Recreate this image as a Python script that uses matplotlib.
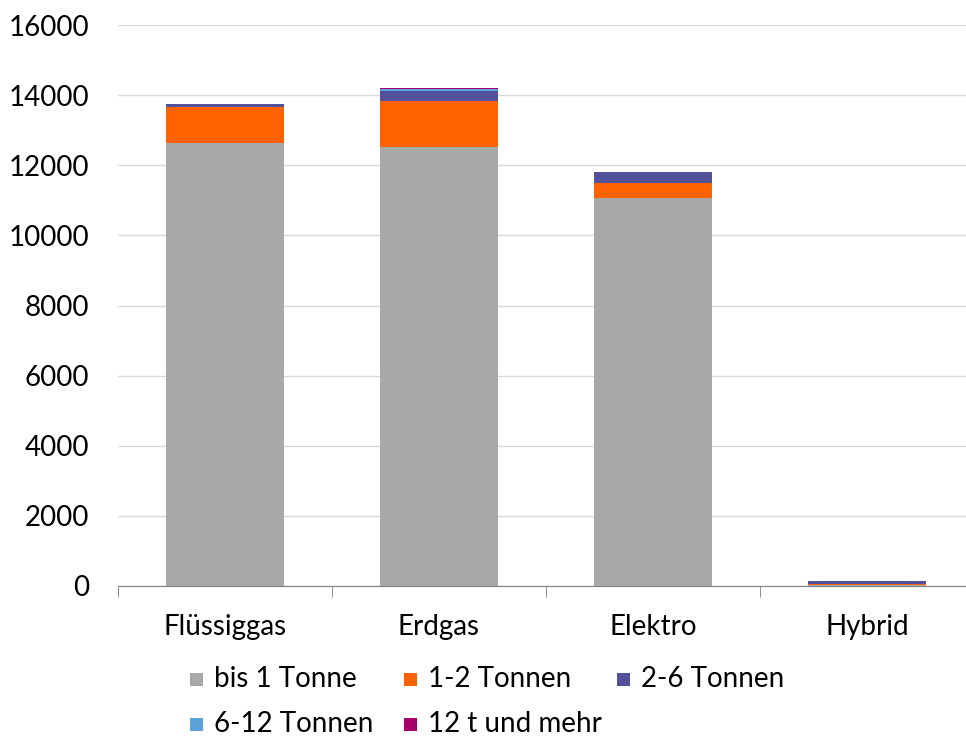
import numpy as np
import matplotlib
matplotlib.use("Agg")
import matplotlib.pyplot as plt
from matplotlib.patches import Rectangle

plt.rcParams["font.family"] = ["Lato", "DejaVu Sans"]

categories = ["Flüssiggas", "Erdgas", "Elektro", "Hybrid"]
series_names = ["bis 1 Tonne", "1-2 Tonnen", "2-6 Tonnen", "6-12 Tonnen", "12 t und mehr"]
bis1 = [12630, 12510, 11080, 30]
t1_2 = [1030, 1320, 410, 20]
t2_6 = [80, 290, 310, 90]
t6_12 = [5, 50, 5, 3]
t12plus = [5, 30, 3, 2]
colors = ["#A8A8A8", "#FF6200", "#525199", "#5BA4D9", "#A8006A"]

W, H = 966, 739
fig = plt.figure(figsize=(W / 100, H / 100), dpi=100)
ax = fig.add_axes([118 / W, 1 - 586 / H, 856 / W, (586 - 25) / H])

x = np.arange(len(categories))
bottom = np.zeros(len(categories))
for vals, col in zip([bis1, t1_2, t2_6, t6_12, t12plus], colors):
    ax.bar(x, vals, width=0.556, bottom=bottom, color=col, zorder=3)
    bottom += np.array(vals)

ax.set_xlim(-0.5, 3.5)
ax.set_ylim(0, 16000)
ax.set_yticks(np.arange(0, 16001, 2000))
ax.yaxis.grid(True, color="#D9D9D9", linewidth=1, zorder=0)
for s in ["top", "right", "left"]:
    ax.spines[s].set_visible(False)
ax.spines["bottom"].set_color("#7F7F7F")
ax.tick_params(axis="y", length=0, labelsize=20, pad=21)
ax.set_xticks(x)
ax.set_xticklabels(categories, fontsize=20)
ax.tick_params(axis="x", length=0, pad=20)
ax.set_xticks(np.arange(-0.5, 4.0, 1.0), minor=True)
ax.tick_params(axis="x", which="minor", length=8, color="#7F7F7F", direction="out")

# Excel-style legend: fixed column pitch, filled row by row
leg_x0, leg_pitch = 190, 213.5
row_y = [679, 724]
sq = 13
for i, (name, col) in enumerate(zip(series_names, colors)):
    c, r = i % 3, i // 3
    lx = leg_x0 + c * leg_pitch
    ly = row_y[r]
    fig.patches.append(Rectangle((lx / W, 1 - (ly + sq / 2) / H), sq / W, sq / H,
                                 transform=fig.transFigure, facecolor=col,
                                 edgecolor="none"))
    fig.text((lx + 24) / W, 1 - ly / H, name, fontsize=20, va="center", ha="left")

fig.savefig("out.png", dpi=100)
